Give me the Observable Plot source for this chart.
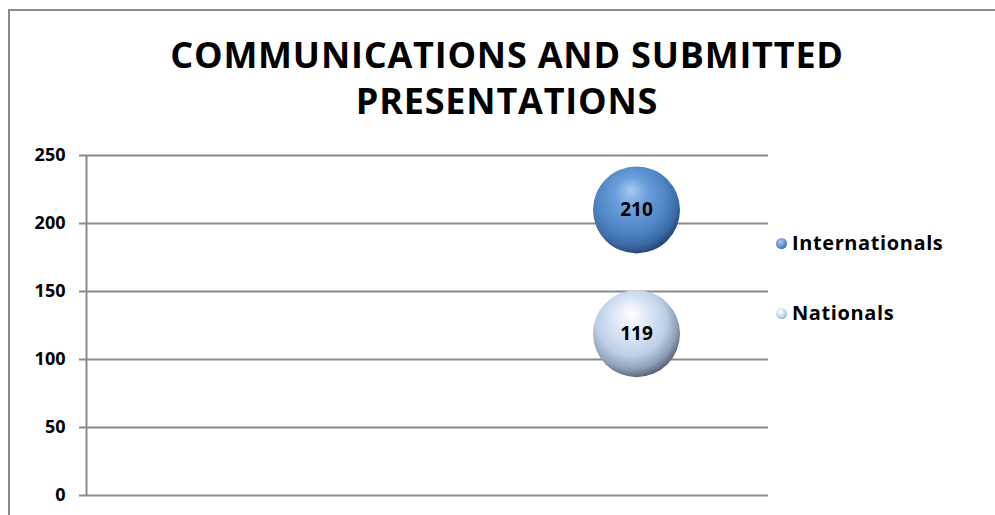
<!DOCTYPE html>
<html>
<head>
<meta charset="utf-8">
<script src="https://cdn.jsdelivr.net/npm/d3@7"></script>
<script src="https://cdn.jsdelivr.net/npm/@observablehq/plot@0.6"></script>
<style>
  html, body { margin: 0; padding: 0; background: #fff; overflow: hidden; }
  #wrap { position: relative; width: 995px; height: 515px; font-family: "Open Sans", sans-serif; }
  #frame { position: absolute; left: 8px; top: 9px; width: 1100px; height: 600px; border: 2px solid #8a8a8a; box-sizing: border-box; }
  #title { position: absolute; left: 0; top: 32px; width: 1014px; text-align: center; font-weight: 700; font-size: 36px; line-height: 46px; color: #000; letter-spacing: 0.8px; }
  #chart { position: absolute; left: 0; top: 0; }
  .leg { position: absolute; font-weight: 700; font-size: 20px; color: #000; white-space: nowrap; letter-spacing: 0.6px; }
  .leg span.m { display: inline-block; width: 11px; height: 11px; border-radius: 50%; margin-right: 5px; vertical-align: 1px; }
</style>
</head>
<body>
<div id="wrap">
  <div id="frame"></div>
  <div id="title">COMMUNICATIONS AND SUBMITTED<br>PRESENTATIONS</div>
  <div id="chart"></div>
</div>
<script>
const series = ["Internationals", "Nationals"];
const values = [210, 119];
const xPos = [1, 1];
const yTicks = [0, 50, 100, 150, 200, 250];
const gradients = ["gradIntl", "gradNat"];

const data = series.map((s, i) => ({series: s, x: xPos[i], y: values[i], grad: `url(#${gradients[i]})`}));

const chart = Plot.plot({
  width: 995,
  height: 515,
  marginTop: 155,
  marginBottom: 20,
  marginLeft: 86,
  marginRight: 227,
  style: {background: "transparent", fontFamily: "Open Sans, sans-serif", overflow: "visible"},
  x: {domain: [0, 1.24], axis: null},
  y: {domain: [0, 250], ticks: yTicks},
  color: {type: "identity"},
  marks: [
    Plot.ruleY(yTicks, {stroke: "#8a8a8a", strokeWidth: 2, strokeOpacity: 1, x1: 0, x2: 1.24}),
    Plot.axisY({ticks: yTicks, tickSize: 7, tickPadding: 14, stroke: "#8a8a8a", strokeWidth: 2, strokeOpacity: 1, fontSize: 18, fontWeight: 700, fill: "#000", label: null}),
    Plot.ruleX([0], {stroke: "#8a8a8a", strokeWidth: 2, strokeOpacity: 1}),
    Plot.dot(data, {x: "x", y: "y", r: 43.5, fill: "grad", stroke: null}),
    Plot.text(data, {x: "x", y: "y", text: d => String(d.y), fontSize: 19, fontWeight: 700, fill: "#000"})
  ]
});

// gradients
const defs = d3.select(chart).insert("defs", ":first-child");
function addGrad(id, stops) {
  const g = defs.append("radialGradient").attr("id", id)
    .attr("cx", "0.44").attr("cy", "0.4").attr("r", "0.62").attr("fx", "0.44").attr("fy", "0.27");
  stops.forEach(([o, c]) => g.append("stop").attr("offset", o).attr("stop-color", c));
}
addGrad("gradIntl", [[0, "#a6cbf2"], [0.3, "#6b9fdc"], [0.65, "#4f85c6"], [0.85, "#3c6ba5"], [1, "#23456e"]]);
addGrad("gradNat", [[0, "#ffffff"], [0.3, "#dfeaf8"], [0.65, "#bccee6"], [0.85, "#8e9fb6"], [1, "#525e6e"]]);

document.getElementById("chart").appendChild(chart);

// legend
const legendColors = ["radial-gradient(circle at 40% 35%, #a6cbf2, #4f85c6 60%, #23456e)", "radial-gradient(circle at 40% 35%, #ffffff, #bccee6 60%, #525e6e)"];
const legendTops = [229, 299];
series.forEach((s, i) => {
  const d = document.createElement("div");
  d.className = "leg";
  d.style.left = "776px";
  d.style.top = legendTops[i] + "px";
  d.innerHTML = `<span class="m" style="background:${legendColors[i]}"></span>${s}`;
  document.getElementById("wrap").appendChild(d);
});
</script>
</body>
</html>
